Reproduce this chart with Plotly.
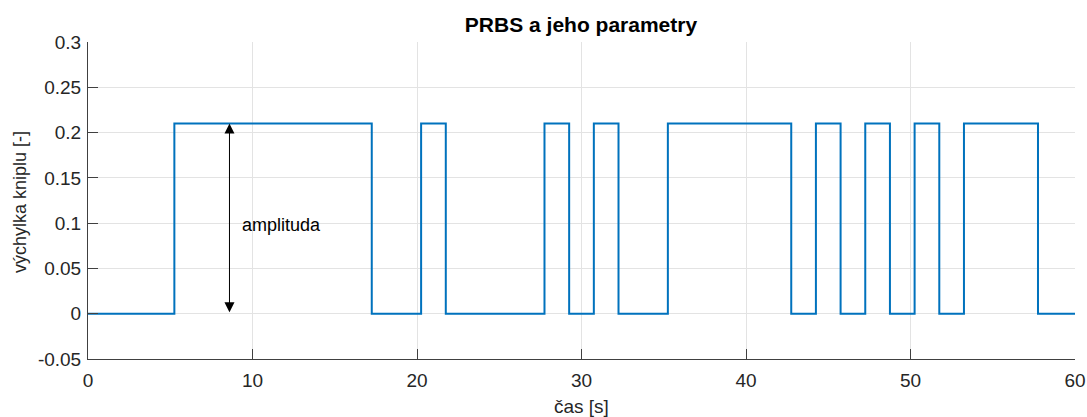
import plotly.graph_objects as go

# PRBS switching times [s] and levels (held until next time)
times = [0, 5.25, 17.25, 20.25, 21.75, 27.75, 29.25, 30.75, 32.25, 35.25,
         42.75, 44.25, 45.75, 47.25, 48.75, 50.25, 51.75, 53.25, 57.75, 60]
levels = [0, 0.21, 0, 0.21, 0, 0.21, 0, 0.21, 0, 0.21,
          0, 0.21, 0, 0.21, 0, 0.21, 0, 0.21, 0, 0]

x_ticks = [0, 10, 20, 30, 40, 50, 60]
y_ticks = [-0.05, 0, 0.05, 0.1, 0.15, 0.2, 0.25, 0.3]
y_tick_labels = ["-0.05", "0", "0.05", "0.1", "0.15", "0.2", "0.25", "0.3"]

title_text = "PRBS a jeho parametry"
x_title = "čas [s]"
y_title = "výchylka kniplu [-]"

amp_x = 8.6
amp_top = 0.21
amp_bottom = 0.0
amp_label = "amplituda"
amp_label_x = 9.25
amp_label_y = 0.098

FONT = "Liberation Sans, Arial, Helvetica, sans-serif"
TXT = "#262626"

W, H = 1087, 417

fig = go.Figure()
fig.add_trace(go.Scatter(
    x=times, y=levels, mode="lines", line_shape="hv",
    line=dict(color="#0072BD", width=2), showlegend=False, hoverinfo="skip"))

fig.add_annotation(
    x=amp_x, y=amp_top, ax=amp_x, ay=amp_bottom, xref="x", yref="y",
    axref="x", ayref="y", showarrow=True, arrowhead=2, arrowsize=2,
    arrowwidth=1, arrowcolor="black", arrowside="end+start", text="",
    standoff=0, startstandoff=0)
fig.add_annotation(
    x=amp_label_x, y=amp_label_y, xref="x", yref="y", text=amp_label,
    showarrow=False, xanchor="left", yanchor="middle",
    font=dict(family=FONT, size=18, color="black"))

# axis titles
fig.add_annotation(
    x=0.5, y=-0.151, xref="paper", yref="paper", text=x_title, showarrow=False,
    xanchor="center", yanchor="middle", font=dict(family=FONT, size=19, color=TXT))
fig.add_annotation(
    x=-0.069, y=0.495, xref="paper", yref="paper", text=y_title, showarrow=False,
    textangle=-90, xanchor="center", yanchor="middle",
    font=dict(family=FONT, size=18, color=TXT))

fig.update_layout(
    width=W, height=H,
    margin=dict(l=88, r=12, t=42, b=58, autoexpand=False),
    plot_bgcolor="white", paper_bgcolor="white",
    font=dict(family=FONT, size=18, color=TXT),
    title=dict(text="<b>" + title_text + "</b>", x=581 / W, xanchor="center",
               xref="container", yref="container",
               y=1 - 25 / H, yanchor="middle",
               font=dict(family=FONT, size=21, color="black")),
)
fig.update_xaxes(
    range=[0, 60], tickvals=x_ticks, ticks="inside", ticklen=10, tickcolor="#404040",
    showline=True, linecolor="#404040", linewidth=1, showgrid=True,
    gridcolor="#e3e3e3", gridwidth=1, zeroline=False, automargin=False,
    ticklabelstandoff=4, ticklabeloverflow="allow",
    tickfont=dict(family=FONT, size=19, color=TXT))
fig.update_yaxes(
    range=[-0.05, 0.3], tickvals=y_ticks, ticktext=y_tick_labels, ticks="inside",
    ticklen=10, tickcolor="#404040", showline=True, linecolor="#404040", linewidth=1,
    showgrid=True, gridcolor="#e3e3e3", gridwidth=1, zeroline=False, automargin=False,
    ticklabelstandoff=2,
    tickfont=dict(family=FONT, size=19, color=TXT))

fig.write_html(
    "out.html",
    config={"displayModeBar": False},
    post_script="document.body.style.margin='0';document.body.style.overflow='hidden';")
